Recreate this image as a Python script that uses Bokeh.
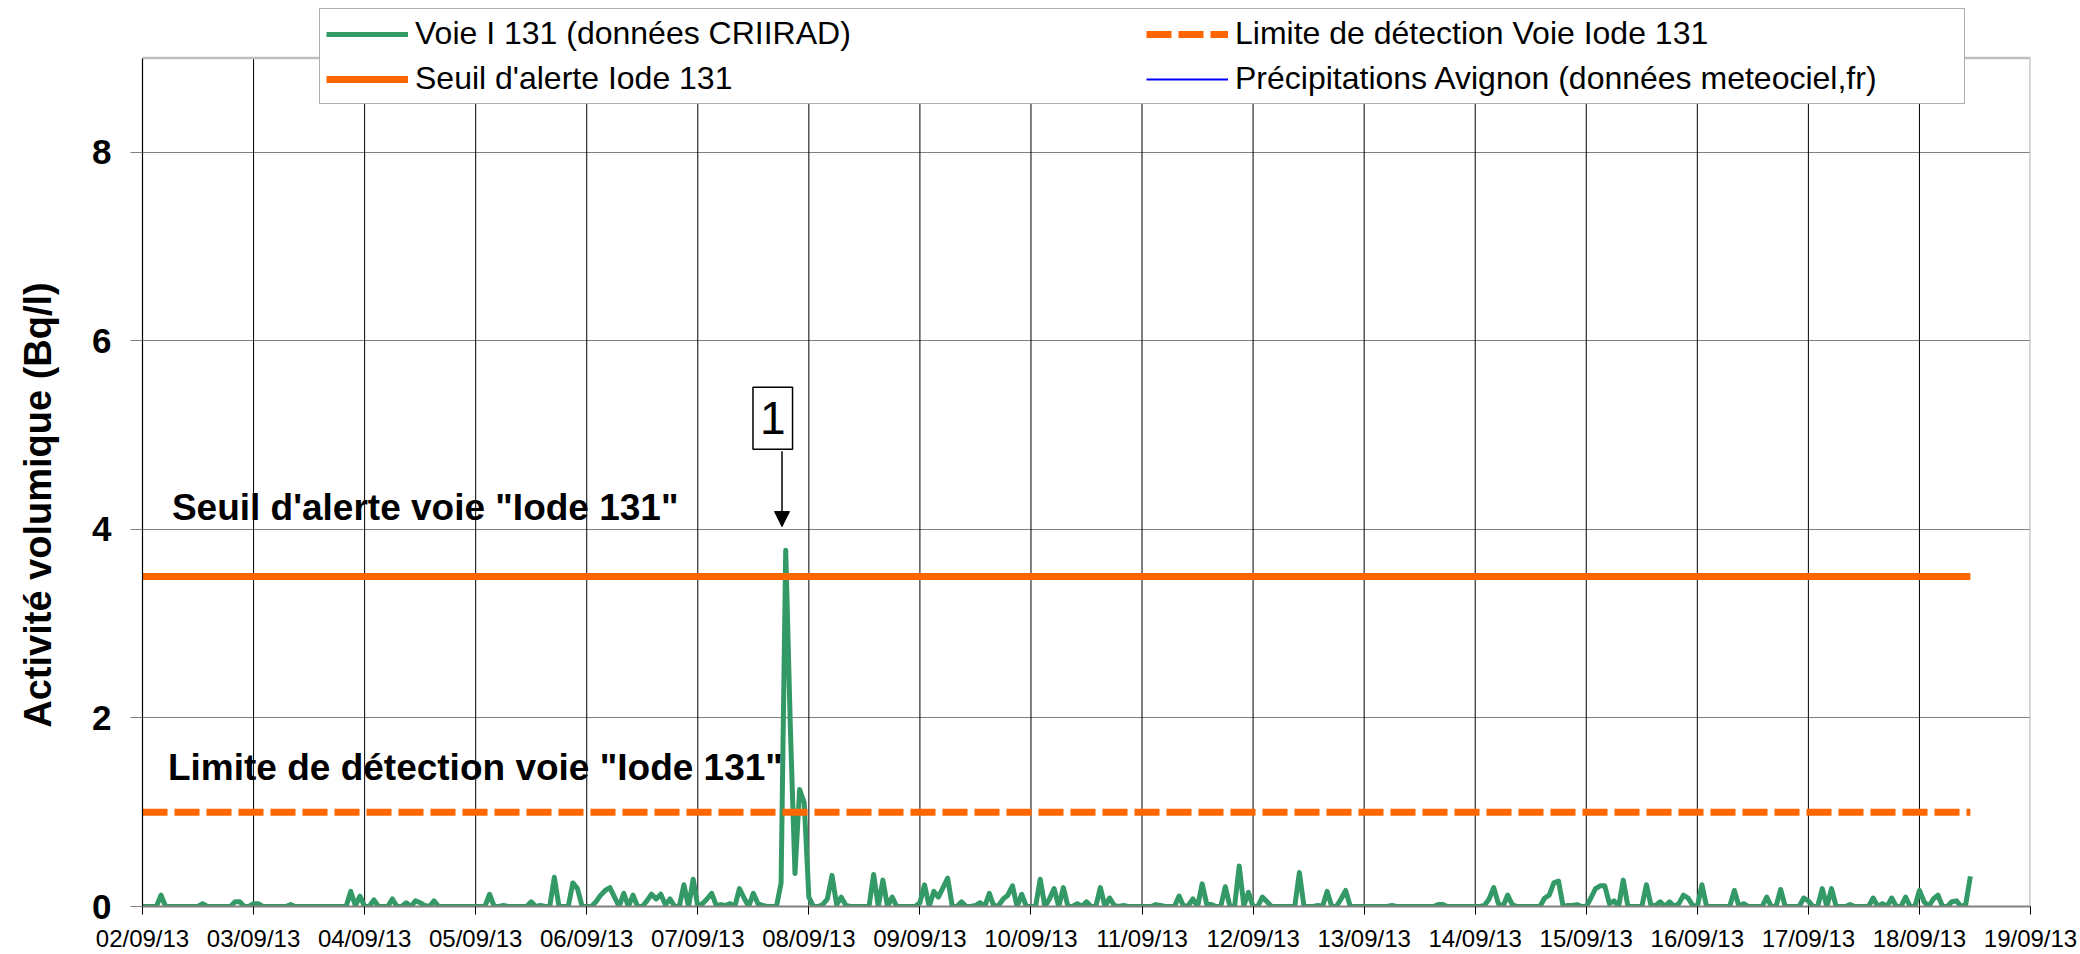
import numpy as np
import pandas as pd
from bokeh.plotting import figure
from bokeh.models import (Range1d, DatetimeTickFormatter, DaysTicker, FixedTicker,
                          Legend, LegendItem, Label, Arrow, NormalHead)
from bokeh.embed import file_html
from bokeh.resources import INLINE

# ---------------- data ----------------
axis_start = "2013-09-02 00:00"
axis_end = "2013-09-19 00:00"
y_ticks = [0, 2, 4, 6, 8]
y_max = 9
seuil_alerte = 3.5          # Bq/l
limite_detection = 1.0      # Bq/l

# hourly activity, voie I 131 (Bq/l), one line per day from 02/09/13 00h
iode131 = [
    0, 0, 0, 0, 0.12, 0, 0, 0, 0, 0, 0, 0, 0, 0.03, 0, 0, 0, 0, 0, 0, 0.05, 0.05, 0, 0,
    0.03, 0.03, 0, 0, 0, 0, 0, 0, 0.02, 0, 0, 0, 0, 0, 0, 0, 0, 0, 0, 0, 0, 0.16, 0.01, 0.11,
    0, 0, 0.07, 0, 0, 0, 0.08, 0, 0, 0.04, 0, 0.06, 0.04, 0.01, 0, 0.06, 0, 0, 0, 0, 0, 0, 0, 0,
    0, 0, 0, 0.13, 0, 0, 0.01, 0, 0, 0, 0, 0, 0.05, 0, 0.01, 0, 0, 0.31, 0, 0, 0, 0.25, 0.19, 0,
    0, 0, 0.05, 0.12, 0.17, 0.20, 0.10, 0, 0.14, 0, 0.12, 0, 0, 0.06, 0.13, 0.08, 0.13, 0.02, 0.08, 0, 0, 0.23, 0, 0.29,
    0, 0.03, 0.08, 0.14, 0.01, 0.02, 0.01, 0.03, 0, 0.19, 0.09, 0, 0.14, 0.03, 0.01, 0, 0, 0, 0.25, 3.78, 1.9, 0.35, 1.24, 1.1,
    0.1, 0, 0, 0.02, 0.08, 0.33, 0.02, 0.10, 0.01, 0, 0, 0, 0, 0, 0.34, 0, 0.28, 0, 0.10, 0, 0, 0, 0, 0,
    0.04, 0.23, 0, 0.16, 0.10, 0.2, 0.30, 0, 0, 0.05, 0, 0, 0.01, 0.04, 0, 0.14, 0, 0.01, 0.08, 0.12, 0.22, 0, 0.13, 0,
    0, 0, 0.29, 0, 0.08, 0.19, 0, 0.20, 0, 0, 0.03, 0, 0.05, 0, 0, 0.20, 0, 0.09, 0.01, 0, 0.01, 0, 0, 0,
    0, 0, 0, 0.02, 0.01, 0, 0, 0, 0.11, 0, 0.01, 0.08, 0, 0.24, 0.02, 0.02, 0, 0, 0.21, 0, 0, 0.43, 0.01, 0.15,
    0, 0, 0.10, 0.05, 0, 0, 0, 0, 0, 0, 0.36, 0, 0, 0, 0.01, 0, 0.16, 0, 0, 0.08, 0.17, 0, 0, 0,
    0, 0, 0, 0, 0, 0, 0.01, 0, 0, 0, 0, 0, 0, 0, 0, 0, 0.02, 0.02, 0, 0, 0, 0, 0, 0,
    0, 0, 0.01, 0.08, 0.20, 0.03, 0, 0.12, 0.02, 0, 0, 0, 0, 0, 0, 0.09, 0.12, 0.25, 0.27, 0, 0.01, 0.01, 0.02, 0,
    0, 0.09, 0.19, 0.22, 0.22, 0.03, 0.06, 0, 0.28, 0, 0, 0, 0, 0.23, 0.01, 0.01, 0.05, 0, 0.05, 0, 0.03, 0.12, 0.09, 0.01,
    0, 0.23, 0, 0, 0, 0, 0, 0, 0.17, 0, 0.03, 0, 0, 0, 0, 0.10, 0, 0, 0.18, 0, 0, 0, 0, 0.09,
    0.06, 0, 0, 0.19, 0, 0.19, 0, 0, 0, 0.02, 0, 0, 0, 0, 0.09, 0, 0.03, 0, 0.09, 0, 0, 0.10, 0, 0,
    0.17, 0.05, 0, 0.08, 0.12, 0, 0, 0.05, 0.06, 0, 0.02, 0.32,
]
# precipitation series: nothing visible on the chart
precip_times = [axis_start]
precip_mm = [float("nan")]

legend_labels = ["Voie I 131 (données CRIIRAD)", "Seuil d'alerte Iode 131",
                 "Limite de détection Voie Iode 131",
                 "Précipitations Avignon (données meteociel,fr)"]
y_title = "Activité volumique (Bq/l)"
txt_seuil = "Seuil d'alerte voie \"Iode 131\""
txt_limite = "Limite de détection voie \"Iode 131\""
event_label = "1"
event_peak_hour = 139

# ---------------- build ----------------
t0 = pd.Timestamp(axis_start)
t_axis_end = pd.Timestamp(axis_end)
times = t0 + pd.to_timedelta(np.arange(len(iode131)), unit="h")
t_last = times[-1]
precip_t = pd.to_datetime(precip_times)


def ms(ts):
    return pd.Timestamp(ts).value / 1e6


FONT = "Liberation Sans"
W, H = 2080, 954
B_LEFT, B_RIGHT, B_TOP, B_BOTTOM = 142, 50, 8, 46
# y=9 must sit at 57.7 px, y=0 at 908 px: frame extends above y=9 to hold the legend
px_per_unit = (H - B_BOTTOM - 57.7) / y_max
y_top = (H - B_BOTTOM - B_TOP) / px_per_unit

p = figure(width=W, height=H, x_axis_type="datetime",
           x_range=Range1d(ms(t0), ms(t_axis_end)), y_range=Range1d(0, y_top),
           output_backend="svg", toolbar_location=None,
           min_border_left=B_LEFT, min_border_right=B_RIGHT,
           min_border_top=B_TOP, min_border_bottom=B_BOTTOM)
p.background_fill_color = "white"
p.border_fill_color = "white"
p.outline_line_color = None

# grids
p.xgrid.visible = False
p.ygrid.ticker = FixedTicker(ticks=y_ticks[1:])
p.ygrid.grid_line_color = "#808080"
p.ygrid.grid_line_width = 1.2

grid_days = pd.date_range(t0 + pd.Timedelta(days=1), t_axis_end - pd.Timedelta(days=1), freq="D")
p.segment(x0=grid_days, y0=0, x1=grid_days, y1=y_max, line_color="black", line_width=1)
# plot-area border (top and right)
p.segment(x0=[t0, t_axis_end], y0=[y_max, 0], x1=[t_axis_end, t_axis_end], y1=[y_max, y_max],
          line_color="#C0C0C0", line_width=2.5)

# x axis
xa = p.xaxis[0]
xa.ticker = DaysTicker(days=list(range(1, 32)))
fmt = "%d/%m/%y"
xa.formatter = DatetimeTickFormatter(days=fmt, months=fmt, hours=fmt, years=fmt)
xa.major_label_text_font = FONT
xa.major_label_text_font_size = "24px"
xa.major_label_text_color = "black"
xa.major_tick_out = 8
xa.major_tick_in = 0
xa.major_tick_line_color = "black"
xa.minor_tick_line_color = None
xa.axis_line_color = "#808080"
xa.axis_line_width = 2
xa.major_label_standoff = 10

# y axis
ya = p.yaxis[0]
ya.ticker = FixedTicker(ticks=y_ticks)
ya.bounds = (0, y_max)
ya.major_label_text_font = FONT
ya.major_label_text_font_size = "35px"
ya.major_label_text_font_style = "bold"
ya.major_label_text_color = "black"
ya.major_tick_out = 12
ya.major_tick_in = 0
ya.major_tick_line_color = "#808080"
ya.minor_tick_line_color = None
ya.axis_line_color = "black"
ya.axis_line_width = 1.2
ya.major_label_standoff = 19
# trailing no-break spaces move the centred title down to where the reference has it
ya.axis_label = y_title + "\u00a0" * 9
ya.axis_label_text_font = FONT
ya.axis_label_text_font_size = "38px"
ya.axis_label_text_font_style = "bold"
ya.axis_label_text_color = "black"
ya.axis_label_standoff = 30

# series
r_green = p.line(times, iode131, line_color="#339966", line_width=5, line_join="round")
r_seuil = p.line([t0, t_last], [seuil_alerte, seuil_alerte], line_color="#FF6600", line_width=7)
r_lim = p.line([t0, t_last], [limite_detection, limite_detection], line_color="#FF6600",
               line_width=7, line_dash="25 7")
r_precip = p.line(precip_t, precip_mm, line_color="#0000FF", line_width=2)

legend = Legend(items=[
    LegendItem(label=legend_labels[0], renderers=[r_green]),
    LegendItem(label=legend_labels[1], renderers=[r_seuil]),
    LegendItem(label=legend_labels[2], renderers=[r_lim]),
    LegendItem(label=legend_labels[3], renderers=[r_precip]),
], location=(319 - B_LEFT, (H - B_BOTTOM) - 106), orientation="vertical", nrows=2,
    padding=6, spacing=8, margin=0, glyph_width=82, glyph_height=30,
    label_standoff=7, label_width=723,
    label_text_font=FONT, label_text_font_size="32px", label_text_color="black",
    border_line_color="#606060", border_line_width=1.5,
    background_fill_color="white", background_fill_alpha=1.0)
p.add_layout(legend)

# annotations
lab_seuil = Label(x=ms(t0 + pd.Timedelta(hours=6.35)), y=4.23, text=txt_seuil,
                  text_font=FONT, text_font_size="37px", text_font_style="bold",
                  text_color="black", text_baseline="alphabetic", text_align="left")
lab_lim = Label(x=ms(t0 + pd.Timedelta(hours=5.5)), y=1.47, text=txt_limite,
                text_font=FONT, text_font_size="37px", text_font_style="bold",
                text_color="black", text_baseline="alphabetic", text_align="left")
p.add_layout(lab_seuil)
p.add_layout(lab_lim)

box = Label(x=ms(t0 + pd.Timedelta(hours=event_peak_hour - 2.8)), y=5.18, text=event_label,
            text_font=FONT, text_font_size="46px", text_color="black",
            text_align="center", text_baseline="middle",
            border_line_color="black", border_line_width=1.5,
            background_fill_color="white", padding=(7, 7, 15, 15))
p.add_layout(box)
x_arrow = ms(t0 + pd.Timedelta(hours=event_peak_hour - 0.8))
arrow = Arrow(x_start=x_arrow, y_start=4.83, x_end=x_arrow, y_end=4.03,
              line_color="black", line_width=1.5,
              end=NormalHead(size=15, fill_color="black", line_color="black"))
p.add_layout(arrow)

open("out.html", "w").write(file_html(p, INLINE))
